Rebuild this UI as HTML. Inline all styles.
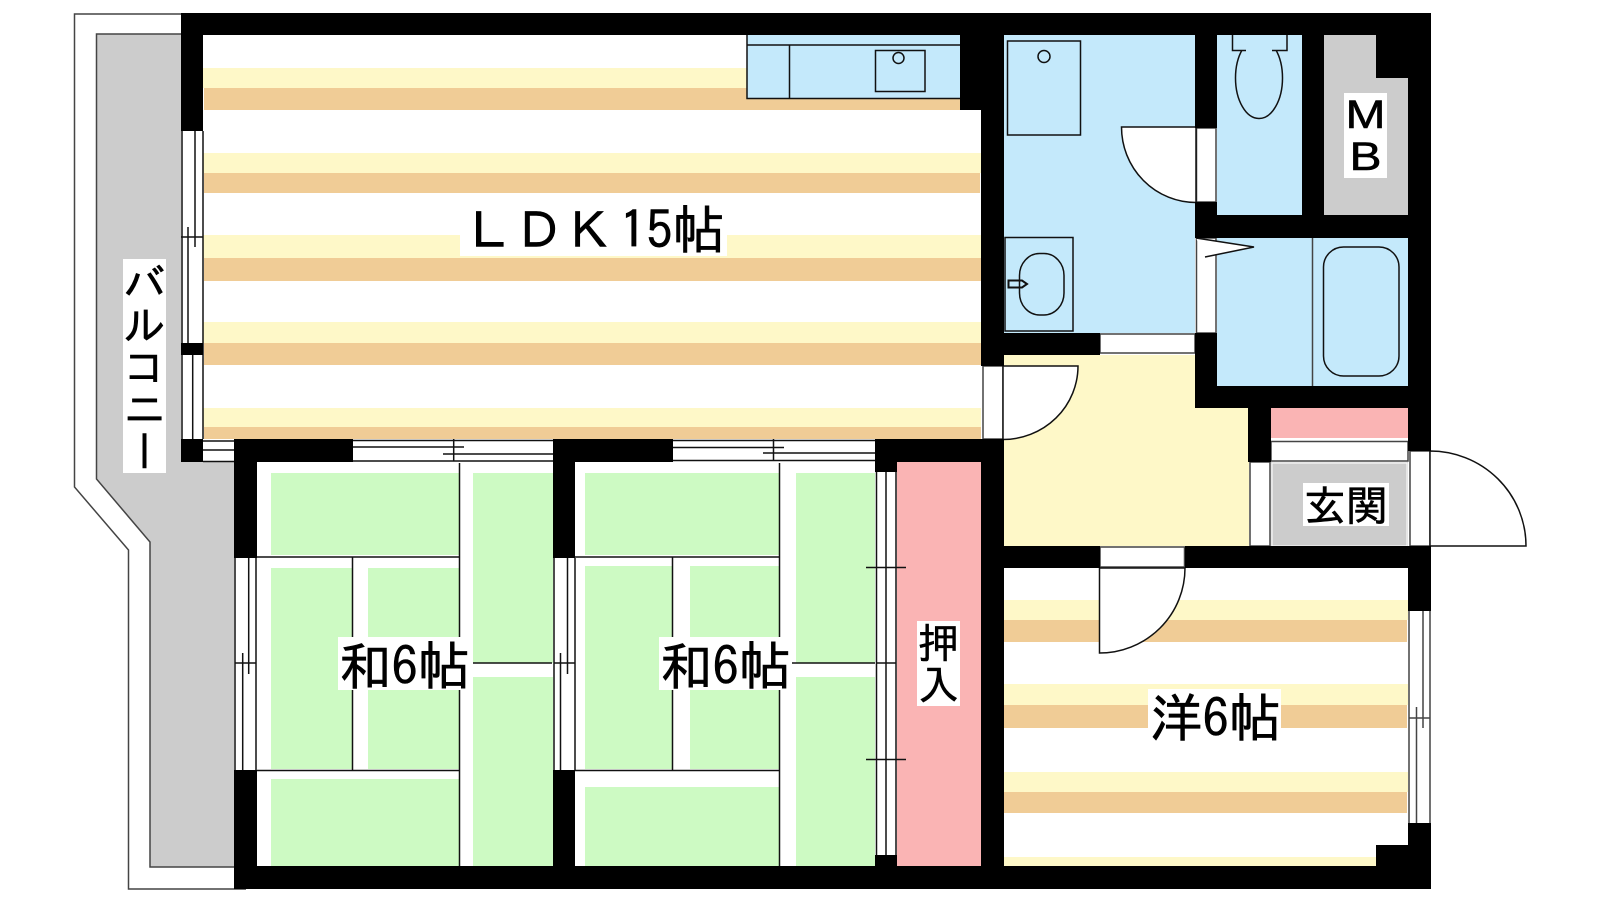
<!DOCTYPE html>
<html><head><meta charset="utf-8"><style>
html,body{margin:0;padding:0;background:#fff;width:1600px;height:900px;overflow:hidden}
svg{display:block}
text{font-family:"IPAGothic","Noto Sans CJK JP",sans-serif;fill:#000;stroke:#000;stroke-width:.6}
.l{stroke:#111;stroke-width:1.5;fill:none}
.g{stroke:#444;stroke-width:1.5;fill:none}
</style></head><body>
<svg width="1600" height="900" viewBox="0 0 1600 900" xmlns="http://www.w3.org/2000/svg">
<!-- balcony -->
<path d="M96.5 34H181V462H234V867H150V542L96.5 479Z" fill="#ccc"/>
<path class="g" d="M181 14H74.5V487L128.5 550V889H246"/>
<path class="g" d="M181 34H96.5V479L150 542V867H234"/>
<!-- LDK floor -->
<g fill="#fef8c8"><rect x="203" y="68" width="757" height="20"/><rect x="203" y="153" width="778" height="20"/><rect x="203" y="235" width="778" height="23"/><rect x="203" y="322" width="778" height="21"/><rect x="203" y="408" width="778" height="19"/></g>
<g fill="#f0cc96"><rect x="204" y="88" width="756" height="22"/><rect x="204" y="173" width="776" height="20"/><rect x="204" y="258" width="777" height="23"/><rect x="204" y="343" width="777" height="22"/><rect x="204" y="427" width="777" height="12"/></g>
<!-- kitchen -->
<rect x="747" y="35" width="213" height="63.5" fill="#c4e9fb"/>
<path class="l" d="M747 35V98.5H960M747 45H960M789.5 45V98.5"/>
<rect class="l" x="875.5" y="50.5" width="49.5" height="41"/>
<circle class="l" cx="898.5" cy="58" r="5.5"/>
<!-- wet areas -->
<g fill="#c4e9fb"><rect x="1004" y="35" width="191" height="298"/><rect x="1217" y="35" width="85" height="180"/><rect x="1217" y="238" width="191" height="148"/></g>
<rect class="l" x="1007.5" y="41" width="73" height="94"/>
<circle class="l" cx="1044" cy="56.5" r="6"/>
<rect class="l" x="1005" y="237.5" width="68" height="93.5"/>
<rect class="l" x="1019.5" y="253.5" width="44.5" height="61.5" rx="20" ry="22"/>
<path class="l" style="stroke-width:2" d="M1008.5 280.5H1022L1027 284L1022 287.5H1008.5Z" fill="#c4e9fb"/>
<ellipse class="l" cx="1259" cy="78" rx="23.5" ry="40.5"/>
<rect x="1233" y="35" width="54" height="15.5" fill="#c4e9fb"/>
<path class="l" d="M1232.5 35V50.5H1246M1287 35V50.5H1272"/>
<path class="g" d="M1312.5 238V386"/>
<rect class="l" x="1323.5" y="247" width="75.5" height="129" rx="20" ry="20"/>
<!-- MB -->
<path d="M1324 35H1376V78H1408V215H1324Z" fill="#ccc"/>
<!-- corridor -->
<path d="M1004 355H1217V408H1249V546H1004Z" fill="#fef8c8"/>
<rect x="1271" y="408" width="137" height="30" fill="#fab4b4"/>
<rect x="1271" y="462" width="137" height="84" fill="#ccc"/>
<rect x="1272" y="463" width="135" height="83" fill="none" stroke="#fff" stroke-width="1"/>
<rect x="1271" y="441.5" width="137" height="19.5" fill="#fff" stroke="#444" stroke-width="1.5"/>
<!-- western room -->
<g fill="#fef8c8"><rect x="1004" y="600" width="404" height="20"/><rect x="1004" y="684" width="404" height="21"/><rect x="1004" y="772" width="404" height="20"/><rect x="1004" y="857" width="372" height="9"/></g>
<g fill="#f0cc96"><rect x="1004" y="620" width="403" height="22"/><rect x="1004" y="705" width="403" height="23"/><rect x="1004" y="792" width="403" height="21"/></g>
<!-- closet -->
<rect x="897" y="462" width="84" height="404" fill="#fab4b4"/>
<!-- tatami rooms -->
<g fill="#cdfac3">
<rect x="271" y="473" width="188" height="82"/><rect x="271" y="568" width="81" height="201"/><rect x="368" y="568" width="91" height="201"/><rect x="271" y="779" width="188" height="87"/><rect x="473" y="473" width="80" height="190"/><rect x="473" y="677" width="80" height="189"/>
<rect x="585" y="473" width="194" height="82"/><rect x="585" y="566" width="87" height="203"/><rect x="690" y="566" width="89" height="203"/><rect x="585" y="787" width="194" height="79"/><rect x="796" y="473" width="79" height="190"/><rect x="796" y="677" width="79" height="189"/>
</g>
<path class="l" d="M257 557H459.5M459.5 463V866M352.5 557V770.5M257 770.5H459.5M473 663H552"/>
<path class="l" d="M575 557H779.5M779.5 463V866M672.5 557V770.5M575 770.5H779.5M792 663H875"/>
<!-- windows -->
<path class="l" d="M182 131V439M203 131V439M195 131V247M188 227V343M181 237H203"/>
<path class="l" d="M192.7 355V439M203 441H234M203 450H234M203 461.5H234"/>
<path class="l" d="M353 440.5H553M353 461H553M353 447H464M443 454H553M453.7 439V461"/>
<path class="l" d="M673 440.5H875M673 460.5H875M673 447.5H784M763 453H875M773.5 439V461"/>
<path class="l" d="M235 558V770M256 558V770M242.7 653V770M248.7 558V674M235 663H256"/>
<path class="l" d="M554 558V770M575 558V770M560.5 653V770M567.5 558V674M554 663H575"/>
<path class="l" d="M876.5 472V855M886 472V855M896 472V855M876 663H896M866 567.5H906M866 759.5H906"/>
<path class="g" d="M1409 611V823M1430 611V823M1423 611V728M1416.5 707V823M1409 718H1430"/>
<!-- door frames -->
<g fill="#fff" stroke="#444" stroke-width="1.5">
<rect x="1196.5" y="128" width="19.5" height="74"/>
<rect x="1196.5" y="238" width="19.5" height="95"/>
<rect x="1100" y="334" width="95" height="19"/>
<rect x="983" y="366" width="20" height="73"/>
<rect x="1250" y="462" width="20" height="84"/>
<rect x="1410" y="451" width="20" height="95"/>
<rect x="1100" y="547" width="84.5" height="20"/>
</g>
<!-- door leaves -->
<g fill="#fff" stroke="#111" stroke-width="1.5">
<path d="M1196 127H1121.5A74.5 75.5 0 0 0 1196 202.5Z"/>
<path d="M1003 366H1078A75 73.5 0 0 1 1003 439.5Z"/>
<path d="M1430 451A96 95 0 0 1 1526 546H1430Z"/>
<path d="M1099.5 568H1185A85.5 85 0 0 1 1099.5 653Z"/>
<path d="M1196 238L1254 247L1205 257"/>
</g>
<!-- walls -->
<g fill="#000">
<rect x="181" y="13" width="1250" height="22"/>
<rect x="181" y="13" width="22" height="118"/>
<rect x="181" y="343" width="22" height="12"/>
<rect x="181" y="439" width="22" height="23"/>
<rect x="234" y="439" width="119" height="23"/>
<rect x="234" y="439" width="23" height="119"/>
<rect x="234" y="770" width="23" height="119"/>
<rect x="234" y="866" width="1197" height="23"/>
<rect x="554" y="439" width="119" height="23"/>
<rect x="553" y="439" width="22" height="119"/>
<rect x="553" y="770" width="22" height="96"/>
<rect x="875" y="439" width="129" height="23"/>
<rect x="875" y="439" width="22" height="33"/>
<rect x="875" y="855" width="22" height="11"/>
<rect x="981" y="439" width="23" height="427"/>
<rect x="960" y="35" width="44" height="75"/>
<rect x="981" y="35" width="23" height="331"/>
<rect x="1004" y="333" width="96" height="22"/>
<rect x="1195" y="35" width="22" height="93"/>
<rect x="1195" y="202" width="22" height="36"/>
<rect x="1195" y="215" width="236" height="23"/>
<rect x="1302" y="35" width="22" height="180"/>
<rect x="1376" y="35" width="55" height="43"/>
<rect x="1408" y="35" width="23" height="416"/>
<rect x="1195" y="333" width="22" height="75"/>
<rect x="1195" y="386" width="236" height="22"/>
<rect x="1248" y="408" width="23" height="54"/>
<rect x="1004" y="546" width="96" height="22"/>
<rect x="1185" y="546" width="246" height="22"/>
<rect x="1408" y="546" width="23" height="65"/>
<rect x="1408" y="823" width="23" height="66"/>
<rect x="1376" y="845" width="55" height="44"/>
</g>
<!-- labels -->
<g fill="#fff">
<rect x="460" y="204" width="267" height="52"/>
<rect x="338" y="637" width="134" height="53"/>
<rect x="659" y="637" width="133" height="53"/>
<rect x="1148" y="689" width="133" height="53"/>
<rect x="917" y="621" width="43" height="85"/>
<rect x="1303" y="483" width="86" height="43"/>
<rect x="1344" y="93" width="43" height="85"/>
<rect x="123" y="259" width="43" height="214"/>
</g>
<text x="464" y="249" font-size="50">ＬＤＫ</text>
<text x="620" y="249" font-size="52.5">15帖</text>
<text x="339" y="685" font-size="52.5">和6帖</text>
<text x="660" y="685" font-size="52.5">和6帖</text>
<text x="1150" y="737" font-size="52.5">洋6帖</text>
<text x="918" y="658" font-size="41">押</text>
<text x="918" y="700" font-size="41">入</text>
<text x="1304" y="521" font-size="42">玄関</text>
<text transform="translate(1365.5 128) scale(1.2 1)" font-size="40" text-anchor="middle" style="font-family:'Liberation Sans',sans-serif">M</text>
<text transform="translate(1365.5 170) scale(1.2 1)" font-size="40" text-anchor="middle" style="font-family:'Liberation Sans',sans-serif">B</text>
<text x="144.5" y="261" font-size="42" style="writing-mode:vertical-rl;text-orientation:upright">バルコニー</text>
</svg>
</body></html>
